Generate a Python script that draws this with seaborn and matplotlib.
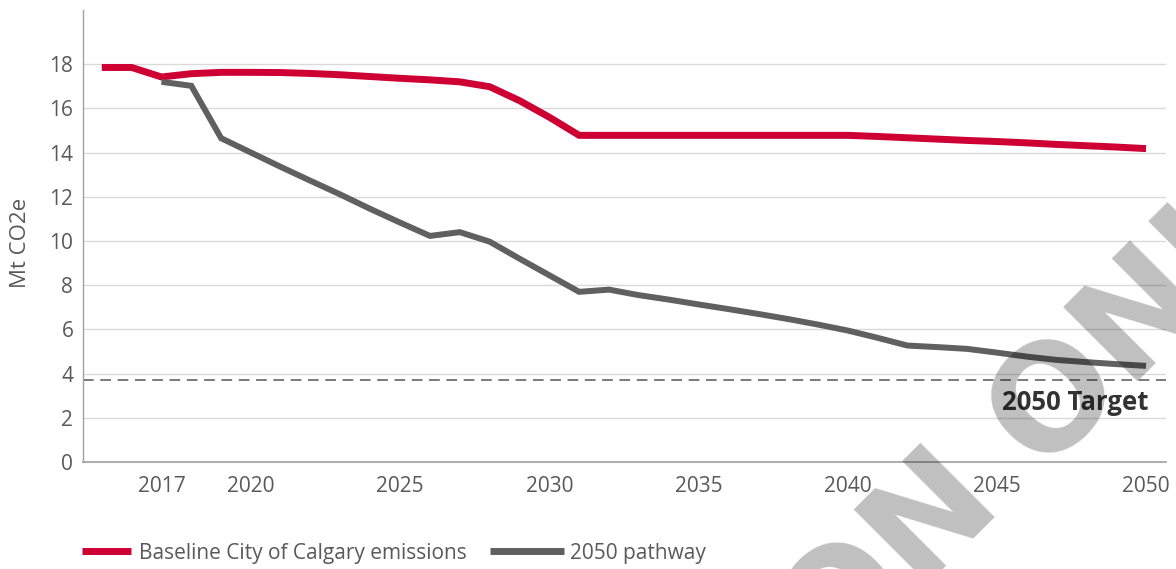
import matplotlib
matplotlib.use("Agg")
import matplotlib.pyplot as plt
from matplotlib.lines import Line2D
import pandas as pd
import seaborn as sns

# Emission series (Mt CO2e)
baseline_years = list(range(2015, 2051))
baseline_values = [17.85, 17.85, 17.42, 17.57, 17.63, 17.63, 17.62, 17.58, 17.52, 17.44,
                   17.36, 17.29, 17.20, 16.98, 16.35, 15.60, 14.78, 14.78, 14.78, 14.78,
                   14.78, 14.78, 14.78, 14.78, 14.78, 14.78, 14.73, 14.67, 14.61, 14.55,
                   14.50, 14.44, 14.37, 14.31, 14.25, 14.18]

pathway_years = list(range(2017, 2051))
pathway_values = [17.20, 17.02, 14.65, 14.00, 13.35, 12.72, 12.10, 11.45, 10.83, 10.23,
                  10.40, 9.97, 9.20, 8.45, 7.70, 7.80, 7.55, 7.35, 7.13, 6.92,
                  6.70, 6.47, 6.22, 5.95, 5.62, 5.27, 5.20, 5.12, 4.95, 4.77,
                  4.62, 4.52, 4.43, 4.35]

target_value = 3.7
target_label = "2050 Target"

series_names = ["Baseline City of Calgary emissions", "2050 pathway"]
series_colors = ["#CE0033", "#606060"]

x_ticks = [2017, 2020, 2025, 2030, 2035, 2040, 2045, 2050]
y_ticks = [0, 2, 4, 6, 8, 10, 12, 14, 16, 18]
y_label = "Mt CO2e"

df = pd.concat([
    pd.DataFrame({"year": baseline_years, "value": baseline_values, "series": series_names[0]}),
    pd.DataFrame({"year": pathway_years, "value": pathway_values, "series": series_names[1]}),
], ignore_index=True)

sns.set_style("white")
plt.rcParams["font.family"] = ["Open Sans", "DejaVu Sans"]

fig = plt.figure(figsize=(11.76, 5.69), dpi=100)
ax = fig.add_axes([0.0706, 0.188, 0.9209, 0.7944])

palette = dict(zip(series_names, series_colors))
sns.lineplot(data=df, x="year", y="value", hue="series", palette=palette,
             ax=ax, legend=False, sort=True)
widths = [5.0, 4.3]
for line, lw in zip(ax.get_lines(), widths):
    line.set_linewidth(lw)
    line.set_solid_joinstyle("miter")
    line.set_solid_capstyle("butt")
    line.set_zorder(3)

# Target line and label
ax.axhline(target_value, color="#7a7a7a", lw=1.4, dashes=(5.5, 3.4), zorder=2)
ax.text(2050.07, target_value - 1.0, target_label, ha="right", va="center",
        fontsize=18.5, fontweight="bold", color="#333333", zorder=4)

ax.set_xlim(2014.37, 2050.67)
ax.set_ylim(0, 20.45)
ax.set_xticks(x_ticks)
ax.set_yticks(y_ticks)
ax.set_xlabel("")
ax.set_ylabel(y_label, fontsize=16, color="#595959")
ax.yaxis.set_label_coords(-0.048, 0.485)

ax.grid(axis="y", color="#dadada", lw=1.0)
ax.grid(axis="x", visible=False)
ax.set_axisbelow(True)
ax.tick_params(axis="both", length=0, labelsize=15, labelcolor="#595959")
ax.tick_params(axis="y", pad=7)
ax.tick_params(axis="x", pad=10)

for side in ["top", "right"]:
    ax.spines[side].set_visible(False)
ax.spines["left"].set_color("#a0a0a0")
ax.spines["left"].set_linewidth(1.0)
ax.spines["bottom"].set_color("#a6a6a6")
ax.spines["bottom"].set_linewidth(1.3)

# Legend: one entry per call so each handle keeps its own length
leg_kw = dict(frameon=False, fontsize=15, borderpad=0, borderaxespad=0,
              labelcolor="#595959", loc="center left")
h_base = Line2D([], [], color=series_colors[0], lw=5.0, solid_capstyle="butt")
h_path = Line2D([], [], color=series_colors[1], lw=5.0, solid_capstyle="butt")
fig.legend(handles=[h_base], labels=[series_names[0]], handlelength=2.36,
           handletextpad=0.38, bbox_to_anchor=(0.0697, 0.028), **leg_kw)
fig.legend(handles=[h_path], labels=[series_names[1]], handlelength=3.56,
           handletextpad=0.3, bbox_to_anchor=(0.4167, 0.028), **leg_kw)

# Semi-transparent watermark
wm_kw = dict(rotation=45, rotation_mode="anchor", va="baseline", fontsize=104,
             fontweight="bold", family="DejaVu Sans", color="black", alpha=0.25,
             zorder=10, transform=fig.transFigure)
fig.text(1005 / 1176, 1 - 507 / 569, "FOR DISCUSSION", ha="right", **wm_kw)
fig.text(1040 / 1176, 1 - 472 / 569, "ONLY", ha="left", **wm_kw)

fig.savefig("out.png", dpi=100)
